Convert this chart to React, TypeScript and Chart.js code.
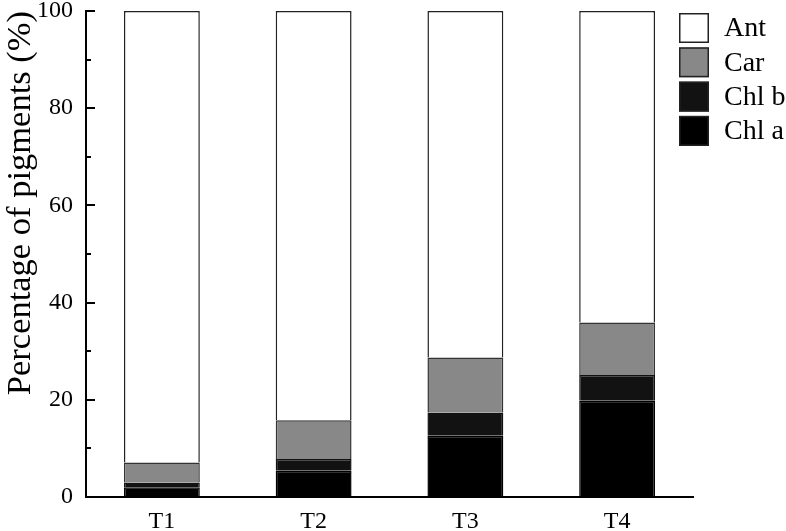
import React, { useEffect, useRef } from "react";
import { Chart, registerables } from "chart.js";

Chart.register(...registerables);

const categories = ["T1", "T2", "T3", "T4"];
const chlA = [2.0, 5.4, 12.6, 19.8];
const chlB = [1.0, 2.4, 4.8, 5.3];
const car = [4.1, 8.0, 11.3, 10.8];
const ant = [92.9, 84.2, 71.3, 64.1];
const yTickValues = [0, 10, 20, 30, 40, 50, 60, 70, 80, 90, 100];
const legendOrder = ["Ant", "Car", "Chl b", "Chl a"];

const FONT = "'Liberation Serif', 'Times New Roman', serif";

const innerTicksAndLegend = {
  id: "innerTicksAndLegend",
  afterDraw(chart: any) {
    const ctx = chart.ctx;
    const y = chart.scales.y;
    const area = chart.chartArea;
    ctx.save();
    ctx.strokeStyle = "#000";
    ctx.lineWidth = 2;
    for (const v of yTickValues) {
      const py = Math.round(y.getPixelForValue(v));
      const len = v % 20 === 0 ? 9 : 5;
      ctx.beginPath();
      ctx.moveTo(area.left, py);
      ctx.lineTo(area.left + len, py);
      ctx.stroke();
    }
    // legend
    const boxX = 679;
    const boxSize = 30;
    const rowH = 34.3;
    const top0 = 13;
    ctx.font = `28px ${FONT}`;
    ctx.textBaseline = "middle";
    ctx.textAlign = "left";
    legendOrder.forEach((label, i) => {
      const ds = chart.data.datasets.find((d: any) => d.label === label);
      const ty = top0 + i * rowH;
      ctx.fillStyle = ds.backgroundColor;
      ctx.fillRect(boxX, ty, boxSize, boxSize);
      ctx.lineWidth = 1.5;
      ctx.strokeStyle = "#222";
      ctx.strokeRect(boxX + 0.75, ty + 0.75, boxSize - 1.5, boxSize - 1.5);
      ctx.fillStyle = "#000";
      ctx.fillText(label, 724, ty + boxSize / 2 + 1);
    });
    ctx.restore();
  },
};

export default function App() {
  const ref = useRef<HTMLCanvasElement | null>(null);
  useEffect(() => {
    document.body.style.margin = "0";
    document.body.style.overflow = "hidden";
    const c = new Chart(ref.current as HTMLCanvasElement, {
      type: "bar",
      data: {
        labels: categories,
        datasets: [
          { label: "Chl a", data: chlA, backgroundColor: "#000000", borderColor: "#000", borderWidth: 1.5 },
          { label: "Chl b", data: chlB, backgroundColor: "#121212", borderColor: "#121212", borderWidth: 1.5 },
          { label: "Car", data: car, backgroundColor: "#888888", borderColor: "#333", borderWidth: 1.5 },
          { label: "Ant", data: ant, backgroundColor: "#ffffff", borderColor: "#222", borderWidth: 1.5 },
        ],
      },
      options: {
        animation: false,
        responsive: true,
        maintainAspectRatio: false,
        layout: { padding: { top: 11, right: 93, left: 0, bottom: 0 } },
        plugins: { legend: { display: false }, tooltip: { enabled: false } },
        datasets: { bar: { barPercentage: 0.5, categoryPercentage: 1 } },
        scales: {
          x: {
            stacked: true,
            grid: { display: false, drawTicks: false },
            border: { display: true, color: "#000", width: 2 },
            ticks: { color: "#000", font: { family: FONT, size: 24 }, padding: 10 },
            afterFit: (s: any) => { s.height = 34; s.paddingLeft = 0; s.paddingRight = 0; },
          },
          y: {
            stacked: true,
            min: 0,
            max: 100,
            grid: { display: false, drawTicks: false },
            border: { display: true, color: "#000", width: 2 },
            ticks: {
              stepSize: 10,
              color: "#000",
              font: { family: FONT, size: 24 },
              padding: 13,
              callback: (v: any) => (Number(v) % 20 === 0 ? String(v) : ""),
            },
            title: {
              display: true,
              text: "Percentage of pigments (%)",
              color: "#000",
              align: "end",
              font: { family: FONT, size: 34.5 },
              padding: 0,
            },
            afterFit: (s: any) => { s.width = 86; s.paddingTop = 0; s.paddingBottom = 0; },
          },
        },
      },
      plugins: [innerTicksAndLegend],
    });
    return () => c.destroy();
  }, []);
  return (
    <div style={{ position: "fixed", left: 0, top: 0, width: 786, height: 531 }}>
      <canvas ref={ref} />
    </div>
  );
}
